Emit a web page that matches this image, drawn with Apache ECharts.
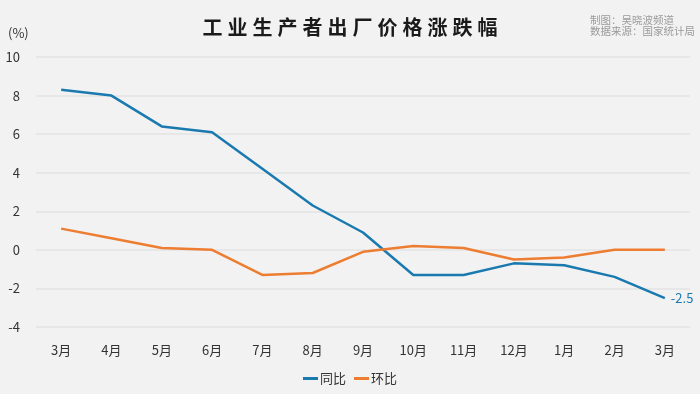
<!DOCTYPE html>
<html><head><meta charset="utf-8">
<script src="https://cdn.jsdelivr.net/npm/echarts@6/dist/echarts.min.js"></script>
<style>html,body{margin:0;padding:0;background:#f2f2f2;}#c{width:700px;height:394px;}</style>
</head><body><div id="c"></div>
<script>
var categories = ['3月','4月','5月','6月','7月','8月','9月','10月','11月','12月','1月','2月','3月'];
var yoy = [8.3, 8.0, 6.4, 6.1, 4.2, 2.3, 0.9, -1.3, -1.3, -0.7, -0.8, -1.4, -2.5];
var mom = [1.1, 0.6, 0.1, 0.0, -1.3, -1.2, -0.1, 0.2, 0.1, -0.5, -0.4, 0.0, 0.0];
var yTicks = [-4, -2, 0, 2, 4, 6, 8, 10];
var titleText = '工业生产者出厂价格涨跌幅';
var credit = ['制图：吴晓波频道', '数据来源：国家统计局'];

var FONT = '"Noto Sans CJK SC", "Noto Sans", sans-serif';
var chart = echarts.init(document.getElementById('c'));
chart.setOption({
  backgroundColor: '#f2f2f2',
  textStyle: { fontFamily: FONT },
  title: [{
    text: titleText.split('').join('\u2005'),
    left: 'center', top: 12,
    textStyle: { fontSize: 20, fontWeight: 'bold', color: '#1a1a1a', fontFamily: FONT }
  }, {
    text: '(%)', left: 3, top: 22,
    textStyle: { fontSize: 13, fontWeight: 'normal', color: '#333', fontFamily: FONT }
  }],
  graphic: [{
    type: 'text', left: 590, top: 14,
    style: { text: credit.join('\n'), fontSize: 10.5, lineHeight: 11.5, fill: '#9a9a9a', fontFamily: FONT }
  }],
  legend: {
    bottom: 4, left: 'center',
    itemWidth: 15, itemHeight: 3, itemGap: 8,
    icon: 'rect',
    textStyle: { fontSize: 13, color: '#333', fontFamily: FONT, padding: [0, 0, 0, -3] },
    data: ['同比', '环比']
  },
  grid: { left: 36, right: 10, top: 57, bottom: 67 },
  xAxis: {
    type: 'category', data: categories, boundaryGap: true,
    axisLine: { show: false }, axisTick: { show: false },
    axisLabel: { color: '#333', fontSize: 13, margin: 17, fontFamily: FONT }
  },
  yAxis: {
    type: 'value', min: yTicks[0], max: yTicks[yTicks.length - 1], interval: 2,
    axisLine: { show: false }, axisTick: { show: false },
    axisLabel: { color: '#333', fontSize: 13, margin: 16, fontFamily: FONT },
    splitLine: { lineStyle: { color: '#e3e3e3', width: 1.5 } }
  },
  series: [{
    name: '同比', type: 'line', data: yoy, symbol: 'none',
    lineStyle: { color: '#1a7ab0', width: 2.5 }, itemStyle: { color: '#1a7ab0' },
    endLabel: { show: true, formatter: '{c}', distance: 6, color: '#1a7ab0', fontSize: 13, fontFamily: FONT }
  }, {
    name: '环比', type: 'line', data: mom, symbol: 'none',
    lineStyle: { color: '#ed7d31', width: 2.5 }, itemStyle: { color: '#ed7d31' }
  }]
});
</script></body></html>
